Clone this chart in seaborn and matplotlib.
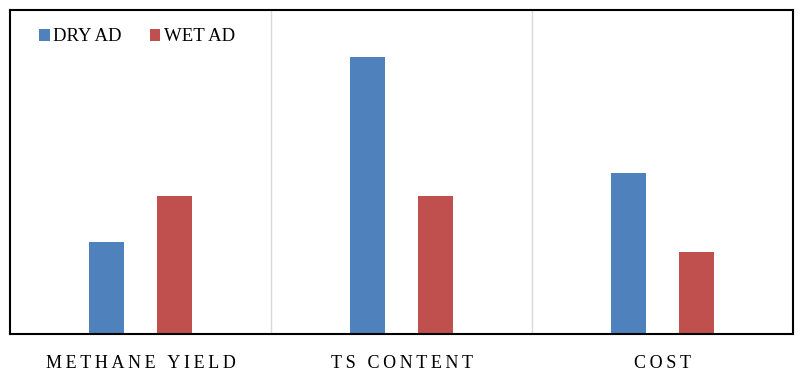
import pandas as pd
import matplotlib
matplotlib.use("Agg")
import matplotlib.pyplot as plt
import seaborn as sns

# valores (escala relativa, sin eje Y visible)
categorias = ["METHANE YIELD", "TS CONTENT", "COST"]
dry_ad = [2.0, 6.02, 3.5]
wet_ad = [3.0, 3.0, 1.78]
series = ["DRY AD", "WET AD"]
colores = ["#4F81BD", "#C0504D"]

df = pd.DataFrame({
    "categoria": categorias * 2,
    "valor": dry_ad + wet_ad,
    "serie": [series[0]] * 3 + [series[1]] * 3,
})

sns.set_style("white")
plt.rcParams["font.family"] = ["Liberation Serif", "DejaVu Serif"]
plt.rcParams["text.color"] = "black"
plt.rcParams["xtick.color"] = "black"

fig = plt.figure(figsize=(8, 3.73), dpi=100)
ax = fig.add_axes([0.0125, 0.1046, 0.979, 0.8686])

sns.barplot(
    data=df, x="categoria", y="valor", hue="serie",
    palette=colores, width=0.52, gap=0.48, saturation=1,
    linewidth=0, ax=ax, legend=True,
)

# separadores entre categorías
for xs in [0.5, 1.5]:
    ax.axvline(xs, color="#d9d9d9", lw=1, zorder=0)

ax.set_xlim(-0.5, 2.5)
ax.set_ylim(0, 7.04)
ax.set_yticks([])
ax.set_xlabel("")
ax.set_ylabel("")

ax.set_xticks(range(len(categorias)))
ax.set_xticklabels(["\u2009".join(c) for c in categorias], fontsize=13)
ax.tick_params(axis="x", length=0, pad=15, labelcolor="black")

for s in ax.spines.values():
    s.set_visible(True)
    s.set_color("black")
    s.set_linewidth(1.5)

ax.legend(
    loc="upper left", ncol=2, frameon=False, fontsize=13.5,
    handlelength=0.55, handleheight=0.55, handletextpad=0.2,
    columnspacing=1.5, bbox_to_anchor=(0.016, 0.995),
)

fig.savefig("out.png", dpi=100)
